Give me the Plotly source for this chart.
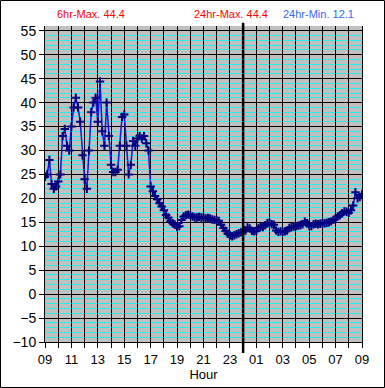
import pandas as pd
import plotly.graph_objects as go

# 10-minute readings from 09:00 to 09:00 next day
start_time = "2020-01-01 09:00"
temps = [
    24.5, 25, 28, 23, 22, 22.5,
    23.5, 25, 33, 34.5, 31, 30,
    35, 39, 41, 39, 36, 29,
    24, 22, 30, 38, 40, 41,
    36, 44.4, 34, 31, 40, 33,
    27, 25.5, 25.5, 26, 31, 37,
    37.5, 31, 25, 27, 32, 31,
    32.5, 33, 32.5, 33, 31.5, 30,
    22.5, 21.5, 20.5, 19.8, 19, 18.3,
    17.5, 16.5, 16, 15.2, 14.8, 14.5,
    14, 14.2, 15.5, 16.2, 16.5, 16.6,
    16.5, 16.2, 16, 16, 16.1, 16,
    16, 15.8, 15.9, 15.8, 15.6, 15.5,
    15.4, 15.3, 14.5, 13.8, 13.2, 12.6,
    12.3, 12.1, 12.3, 12.5, 12.7, 12.9,
    12.9, 13.3, 13.9, 13.7, 13.2, 13.1,
    13.2, 13.8, 14.1, 14.0, 14.4, 14.8,
    14.9, 14.6, 14.5, 13.3, 13.0, 13.1,
    13.0, 13.1, 13.3, 13.8, 14.0, 14.1,
    14.2, 14.3, 14.4, 14.6, 15.2, 14.8,
    14.3, 14.2, 14.6, 14.7, 14.6, 14.7,
    14.8, 14.8, 14.9, 15.0, 15.2, 15.5,
    15.8, 16.2, 16.5, 16.9, 17.3, 17.2,
    17.0, 17.5, 18.5, 21.3, 20.0, 20.3,
    20.8,
]
times = pd.date_range(start_time, periods=len(temps), freq="10min")

x_range = ["2020-01-01 09:00", "2020-01-02 09:00"]
midnight = "2020-01-02 00:00"
y_range = [-10, 56]

max6_label = "6hr-Max. 44.4"
max24_label = "24hr-Max. 44.4"
min24_label = "24hr-Min. 12.1"

fig = go.Figure()
# invisible helper trace so the overlay x-axis (hourly black grid, drawn on top of cyan lines) exists
fig.add_trace(go.Scatter(
    x=times, y=temps, xaxis="x2", yaxis="y", mode="markers",
    marker=dict(opacity=0), hoverinfo="skip", showlegend=False,
))
fig.add_trace(go.Scatter(
    x=times, y=temps, mode="lines+markers",
    line=dict(color="#1010E0", width=1.5),
    marker=dict(symbol="cross-thin", size=6, line=dict(color="#000080", width=2), color="#000080"),
    showlegend=False,
))

font_family = "Liberation Sans, Arial, sans-serif"

fig.update_layout(
    width=385, height=388,
    margin=dict(l=45, r=23, t=26, b=46, autoexpand=False),
    paper_bgcolor="white",
    plot_bgcolor="#C0C0C0",
    font=dict(family=font_family, size=13, color="black"),
    xaxis=dict(
        type="date", range=x_range, automargin=False,
        dtick=7200000, tick0="2020-01-01 09:00", tickformat="%H",
        ticks="outside", ticklen=5, tickcolor="black",
        showgrid=False,
        minor=dict(dtick=3600000, showgrid=False,
                   ticks="outside", ticklen=5, tickcolor="black"),
        showline=True, linecolor="black", linewidth=1, mirror=False,
        title=dict(text="Hour", font=dict(size=13), standoff=4),
        tickfont=dict(size=13),
        zeroline=False,
    ),
    xaxis2=dict(
        type="date", range=x_range, overlaying="x", side="bottom", automargin=False,
        dtick=3600000, tick0="2020-01-01 09:00", showticklabels=False, ticks="",
        showgrid=True, gridcolor="black", gridwidth=1, zeroline=False, showline=False,
    ),
    yaxis=dict(
        range=y_range, dtick=5, tick0=0, automargin=False,
        ticks="outside", ticklen=5, tickcolor="black",
        showgrid=True, gridcolor="black", gridwidth=1,
        minor=dict(dtick=1, showgrid=True, gridcolor="#22EEEE", gridwidth=1),
        showline=True, linecolor="black", linewidth=1, mirror=True,
        zeroline=True, zerolinecolor="black", zerolinewidth=1,
        tickfont=dict(size=14),
    ),
    shapes=[
        dict(type="line", xref="x", yref="paper", x0=midnight, x1=midnight,
             y0=-0.035, y1=1.01, line=dict(color="black", width=2.5)),
        dict(type="rect", xref="paper", yref="paper",
             x0=-44.5 / 317, x1=339.5 / 317, y0=-45.5 / 316, y1=341.5 / 316,
             line=dict(color="black", width=1)),
    ],
    annotations=[
        dict(text=max6_label, xref="paper", yref="paper", x=10 / 317, y=1.038,
             xanchor="left", yanchor="middle", showarrow=False,
             font=dict(color="#FF0000", size=11)),
        dict(text=max24_label, xref="paper", yref="paper", x=147 / 317, y=1.038,
             xanchor="left", yanchor="middle", showarrow=False,
             font=dict(color="#FF0000", size=11)),
        dict(text=min24_label, xref="paper", yref="paper", x=311 / 317, y=1.038,
             xanchor="right", yanchor="middle", showarrow=False,
             font=dict(color="#3366FF", size=11)),
    ],
)

fig.write_html("out.html", config={"displayModeBar": False},
               post_script="document.body.style.margin='0';")
